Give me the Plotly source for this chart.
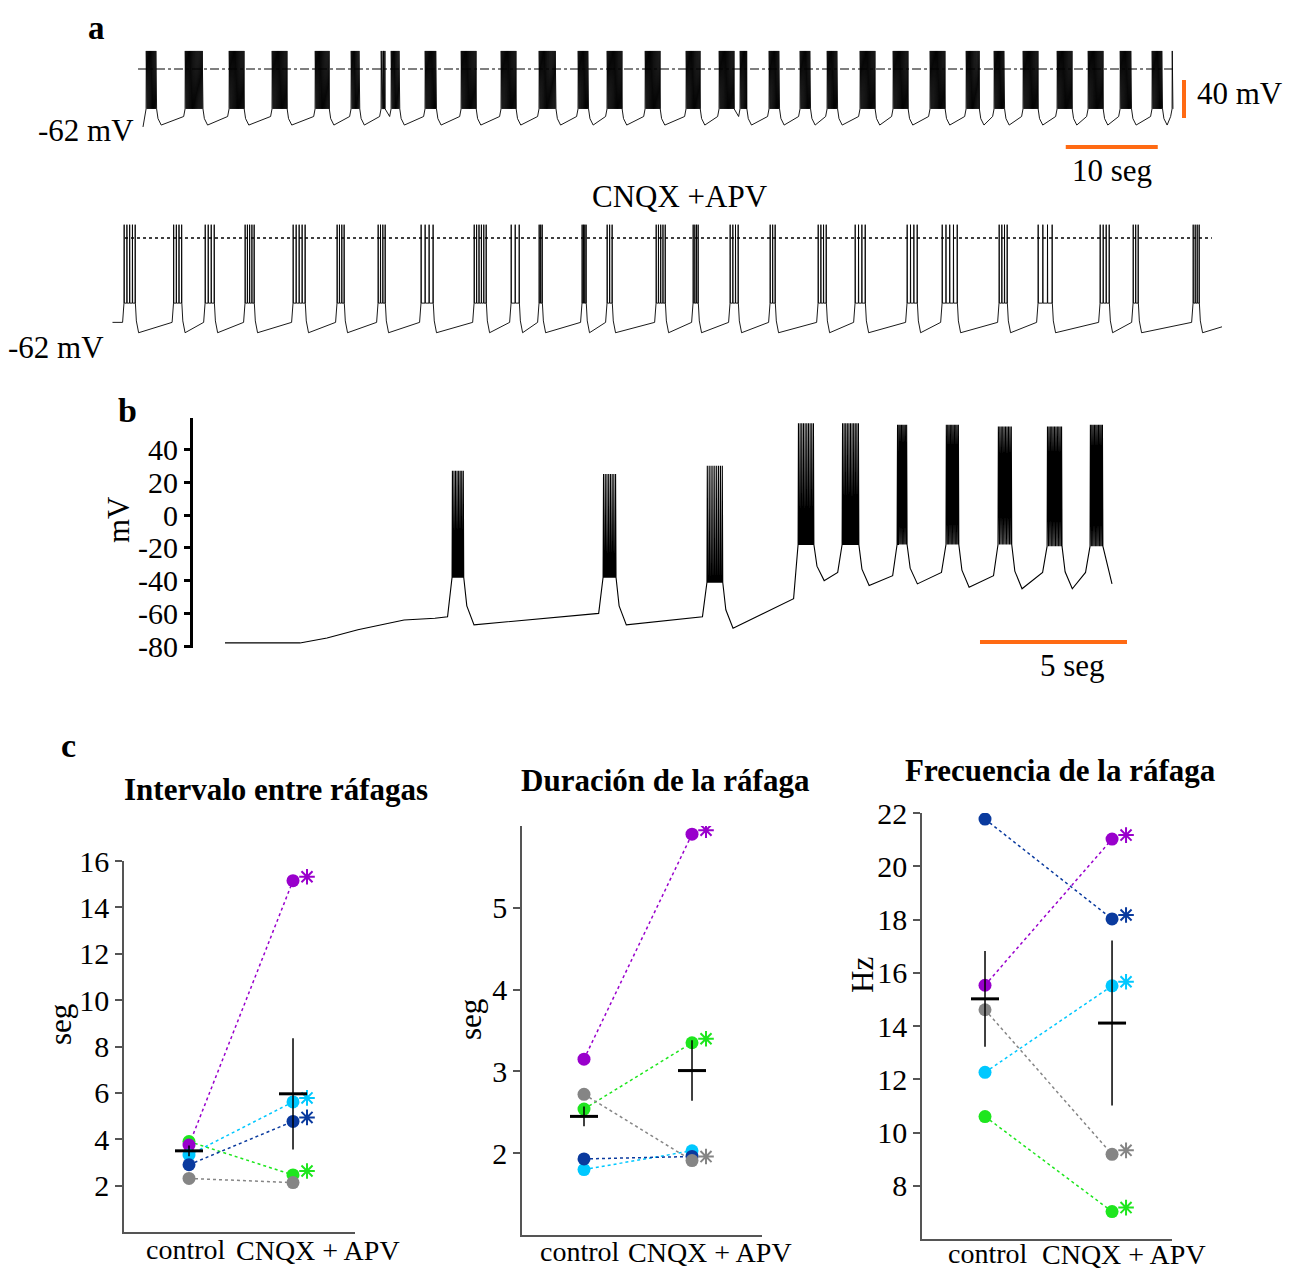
import plotly.graph_objects as go

W, H = 1293, 1275
FONT = "Liberation Serif"
ORANGE = "#FF6A13"
# the page body adds an 8 px margin; all pixel targets below are page pixels
PAGE_OFF = 8

# ---------------- DATA ----------------
# Panel a, control trace (time in s, voltage in mV)
a1_burst_onset = [0.33, 4.57, 9.35, 14.02, 18.70, 22.61, 25.87, 26.96, 30.65, 34.57,
                  38.91, 43.04, 47.28, 50.43, 54.57, 59.02, 62.61, 64.89, 68.04, 71.41,
                  74.35, 77.93, 81.52, 85.54, 89.46, 92.50, 95.65, 99.35, 102.72, 106.20,
                  109.67, 111.85]
a1_burst_dur = [1.1, 1.9, 1.6, 1.6, 1.5, 0.9, 0.4, 0.9, 1.2, 1.6,
                1.6, 1.8, 1.1, 1.6, 1.6, 1.5, 1.6, 0.7, 1.1, 1.1,
                1.1, 1.6, 1.6, 1.6, 1.4, 1.1, 1.6, 1.6, 1.6, 1.2,
                1.1, 0.0]
a1_spike_hz = 18
a1_levels = {"start": -61, "pre": -50, "plateau": -42, "peak": 19, "trough": -59, "end": -42}

# Panel a, CNQX + APV trace
a2_burst_onset = [0.65, 6.03, 9.46, 13.80, 19.02, 23.80, 28.26, 32.93, 38.70, 42.72,
                  45.76, 50.43, 53.15, 58.48, 62.50, 66.52, 70.87, 76.09, 80.11, 85.76,
                  89.57, 95.76, 100.00, 106.74, 110.33, 116.85]
a2_burst_dur = [1.20, 0.87, 0.98, 0.98, 1.30, 0.76, 0.76, 1.30, 1.30, 0.87,
                0.33, 0.43, 0.54, 0.98, 0.54, 0.87, 0.54, 0.87, 1.09, 1.09,
                1.63, 0.87, 1.52, 0.98, 0.54, 0.65]
a2_spike_n = [5, 4, 4, 5, 5, 4, 4, 4, 6, 3,
              3, 4, 3, 5, 4, 4, 3, 4, 4, 4,
              5, 4, 4, 4, 3, 4]
a2_levels = {"start": -57, "pre": -57, "plateau": -44, "peak": 9, "trough": -64, "end": -60}

# Panel b trace
b_lead_t = [0.0, 2.55, 3.47, 4.52, 6.09, 7.14]
b_lead_v = [-78, -78, -75, -70, -64, -63]
b_burst_onset = [7.72, 12.86, 16.39, 19.49, 20.99, 22.86, 24.52, 26.29, 27.96, 29.42]
b_burst_dur = [0.37, 0.41, 0.51, 0.51, 0.54, 0.31, 0.41, 0.44, 0.48, 0.41]
b_spike_n = [8, 8, 9, 10, 11, 8, 10, 10, 11, 10]
b_pre = [-62, -60, -62, -51, -35, -37, -35, -37, -35, -35]
b_plateau = [-38, -38, -41, -18, -18, -18, -18, -18, -19, -19]
b_peak = [27, 25, 30, 56, 56, 55, 55, 54, 54, 55]
b_trough = [-67, -67, -69, -40, -43, -42, -44, -45, -45, -44]
b_end = (30.17, -42)
b_ticks = [-80, -60, -40, -20, 0, 20, 40]

# Panel c
groups = ["control", "CNQX + APV"]
cell_names = ["green", "purple", "cyan", "navy", "grey"]
cell_colors = ["#1EE61E", "#9900CC", "#00C8FF", "#0A3A9E", "#858585"]

c1_control = [3.90, 3.75, 3.32, 2.90, 2.31]
c1_drug = [2.46, 15.15, 5.61, 4.77, 2.13]
c1_star = [True, True, True, True, False]
c1_mean = [3.50, 5.96]
c1_sem = [0.23, 2.40]

c2_control = [2.54, 3.15, 1.80, 1.93, 2.72]
c2_drug = [3.35, 5.90, 2.03, 1.96, 1.91]
c2_star = [True, True, False, False, True]
c2_mean = [2.45, 3.01]
c2_sem = [0.12, 0.37]

c3_control = [10.60, 15.53, 12.26, 21.77, 14.61]
c3_drug = [7.03, 21.02, 15.51, 18.02, 9.18]
c3_star = [True, True, True, True, True]
c3_mean = [15.02, 14.11]
c3_sem = [1.80, 3.10]

c_titles = ["Intervalo entre ráfagas", "Duración de la ráfaga", "Frecuencia de la ráfaga"]
c_ylabels = ["seg", "seg", "Hz"]
c1_ticks = [2, 4, 6, 8, 10, 12, 14, 16]
c2_ticks = [2, 3, 4, 5]
c3_ticks = [8, 10, 12, 14, 16, 18, 20, 22]


# ---------------- helpers ----------------
def px(x):
    return (x - PAGE_OFF) / W


def py(y):
    return 1 - (y - PAGE_OFF) / H


def dx(a, b):
    return [px(a), px(b)]


def dy(top, bottom):
    return [py(bottom), py(top)]


def full_range(x_at_t0, px_per_s):
    # time range of an axis spanning the whole figure width
    return [(PAGE_OFF - x_at_t0) / px_per_s, (W + PAGE_OFF - x_at_t0) / px_per_s]


def build_trace(lead_t, lead_v, onsets, durs, nspk, pre, plat, peak, trough,
                t_end, v_end, rise, fall, spw):
    def pick(p, i):
        return p[i] if isinstance(p, (list, tuple)) else p
    t = list(lead_t)
    v = list(lead_v)
    n = len(onsets)
    for i in range(n):
        on, d, k = onsets[i], durs[i], nspk[i]
        if t[-1] < on - rise:
            t.append(on - rise)
            v.append(pick(pre, i))
        pl, pk, tr = pick(plat, i), pick(peak, i), pick(trough, i)
        t.append(on)
        v.append(pl)
        for j in range(k):
            ts = on + (d * j / (k - 1) if k > 1 else 0.0)
            t += [ts + spw * 0.2, ts + spw, ts + 2 * spw]
            v += [pl, pk, pl]
        end = on + d + 2 * spw
        nxt = onsets[i + 1] if i + 1 < n else t_end
        if nxt - end > rise + fall:
            t += [end + 0.3 * fall, end + fall]
            v += [pl + 0.6 * (tr - pl), tr]
    t.append(t_end)
    v.append(v_end)
    return t, v


fig = go.Figure()

# ---------------- panel a ----------------
a1_n = [max(1, round(d * a1_spike_hz)) for d in a1_burst_dur]
a1_t, a1_v = build_trace([0.0], [a1_levels["start"]], a1_burst_onset, a1_burst_dur, a1_n,
                         a1_levels["pre"], a1_levels["plateau"], a1_levels["peak"],
                         a1_levels["trough"], 111.95, a1_levels["end"], 0.15, 0.5, 0.025)
fig.add_trace(go.Scatter(x=a1_t, y=a1_v, mode="lines", line=dict(color="black", width=0.9),
                         xaxis="x", yaxis="y", hoverinfo="skip"))
fig.add_trace(go.Scatter(x=[-0.54, 112.17], y=[0, 0], mode="lines",
                         line=dict(color="black", width=1.2, dash="dashdot"),
                         xaxis="x", yaxis="y"))
# scale bars (10 s, 40 mV)
fig.add_trace(go.Scatter(x=[100.3, 110.3], y=[-82.1, -82.1], mode="lines",
                         line=dict(color=ORANGE, width=4), xaxis="x", yaxis="y"))
fig.add_trace(go.Scatter(x=[113.15, 113.15], y=[-11.6, -51.6], mode="lines",
                         line=dict(color=ORANGE, width=4), xaxis="x", yaxis="y"))

a2_t, a2_v = build_trace([-0.6], [a2_levels["start"]], a2_burst_onset, a2_burst_dur, a2_spike_n,
                         a2_levels["pre"], a2_levels["plateau"], a2_levels["peak"],
                         a2_levels["trough"], 120.0, a2_levels["end"], 0.15, 0.35, 0.02)
fig.add_trace(go.Scatter(x=a2_t, y=a2_v, mode="lines", line=dict(color="black", width=0.9),
                         xaxis="x2", yaxis="y2", hoverinfo="skip"))
fig.add_trace(go.Scatter(x=[0.76, 118.9], y=[0, 0], mode="lines",
                         line=dict(color="black", width=1.5, dash="dot"),
                         xaxis="x2", yaxis="y2"))

# ---------------- panel b ----------------
b_t, b_v = build_trace(b_lead_t, b_lead_v, b_burst_onset, b_burst_dur, b_spike_n,
                       b_pre, b_plateau, b_peak, b_trough, b_end[0], b_end[1], 0.15, 0.35, 0.015)
fig.add_trace(go.Scatter(x=b_t, y=b_v, mode="lines", line=dict(color="black", width=1.1),
                         xaxis="x3", yaxis="y3", hoverinfo="skip"))
fig.add_trace(go.Scatter(x=[25.68, 30.68], y=[-77.4, -77.4], mode="lines",
                         line=dict(color=ORANGE, width=4), xaxis="x3", yaxis="y3"))

# ---------------- panel c ----------------
# pixel boxes (x0, x1, y_top, y_bottom) and data ranges of the three small plots
c_boxes = [((124, 355, 861, 1232), (-0.625, 1.596), (0, 16)),
           ((522, 762, 826, 1235), (-0.574, 1.648), (1, 6)),
           ((922, 1172, 813, 1239), (-0.496, 1.472), (6, 22))]
c_sets = [
    (c1_control, c1_drug, c1_star, c1_mean, c1_sem, "x4", "y4"),
    (c2_control, c2_drug, c2_star, c2_mean, c2_sem, "x5", "y5"),
    (c3_control, c3_drug, c3_star, c3_mean, c3_sem, "x6", "y6"),
]
STAR_DX_PX, STAR_DY_PX = 14, 4
annotations = []
for (box, xr, yr), (ctrl, drug, star, mean, sem, xa, ya) in zip(c_boxes, c_sets):
    ux = (box[1] - box[0]) / (xr[1] - xr[0])
    uy = (box[3] - box[2]) / (yr[1] - yr[0])
    for i in range(len(cell_names)):
        fig.add_trace(go.Scatter(x=[0, 1], y=[ctrl[i], drug[i]], mode="lines",
                                 line=dict(color=cell_colors[i], width=1.5, dash="dot"),
                                 xaxis=xa, yaxis=ya))
    for i in range(len(cell_names)):
        fig.add_trace(go.Scatter(x=[0, 1], y=[ctrl[i], drug[i]], mode="markers",
                                 marker=dict(color=cell_colors[i], size=13),
                                 xaxis=xa, yaxis=ya))
        if star[i]:
            fig.add_trace(go.Scatter(x=[1 + STAR_DX_PX / ux], y=[drug[i] + STAR_DY_PX / uy],
                                     mode="markers",
                                     marker=dict(symbol="asterisk-open", size=13,
                                                 color=cell_colors[i],
                                                 line=dict(color=cell_colors[i], width=2)),
                                     xaxis=xa, yaxis=ya))
    fig.add_trace(go.Scatter(x=[0, 1], y=mean, mode="markers",
                             marker=dict(symbol="line-ew", size=20, color="black",
                                         line=dict(color="black", width=3)),
                             error_y=dict(type="data", array=sem, thickness=1.5, width=0,
                                          color="black"),
                             xaxis=xa, yaxis=ya))


def text(t, x, y, size, bold=False, xanchor="center", angle=0, color="black",
         yanchor="middle"):
    annotations.append(dict(text=("<b>%s</b>" % t) if bold else t, x=px(x),
                            y=min(1.0, py(y)),
                            xref="paper", yref="paper", showarrow=False, xanchor=xanchor,
                            yanchor=yanchor, textangle=angle,
                            font=dict(family=FONT, size=size, color=color)))


text("a", 96, PAGE_OFF, 33, bold=True, yanchor="top")
text("b", 127, 410, 34, bold=True)
text("c", 68, 745, 34, bold=True)
text("-62 mV", 136, 131, 31, xanchor="right")
text("-62 mV", 106, 347, 31, xanchor="right")
text("40 mV", 1195, 94, 31, xanchor="left")
text("10 seg", 1112, 170, 31)
text("CNQX +APV", 680, 197, 31)
text("mV", 118, 520, 31, angle=-90)
text("5 seg", 1072, 665, 31)

title_pos = [(276, 790), (665, 780), (1060, 770)]
for (x, y), t in zip(title_pos, c_titles):
    text(t, x, y, 31, bold=True)
ylab_pos = [(60, 1025), (470, 1020), (862, 975)]
for (x, y), t in zip(ylab_pos, c_ylabels):
    text(t, x, y, 31, angle=-90)
cat_pos = [[(186, 1249), (318, 1250)], [(580, 1251), (710, 1252)], [(988, 1253), (1124, 1254)]]
for pair in cat_pos:
    for (x, y), g in zip(pair, groups):
        text(g, x, y, 28)


def hidden_x(domain, rng, anchor):
    return dict(domain=domain, range=rng, visible=False, fixedrange=True, anchor=anchor,
                automargin=False)


def c_x(box, rng, anchor):
    return dict(domain=dx(box[0], box[1]), range=rng, showline=True, linecolor="#555555",
                linewidth=1.5, showticklabels=False, ticks="", showgrid=False,
                zeroline=False, anchor=anchor, automargin=False)


def c_y(box, rng, anchor, ticks):
    return dict(domain=dy(box[2], box[3]), range=rng, showline=True, linecolor="#555555",
                linewidth=1.5, ticks="outside", ticklen=7, tickwidth=1.5,
                tickcolor="#555555", tickvals=ticks, ticktext=[str(v) for v in ticks],
                tickfont=dict(family=FONT, size=30, color="black"),
                showgrid=False, zeroline=False, anchor=anchor, automargin=False)


# panel b x axis: starts at the y-axis line (page x = 193), 29.4 px per second, t=0 at x=225
b_x0 = 193
fig.update_layout(
    width=W, height=H, margin=dict(l=0, r=0, t=0, b=0, pad=0, autoexpand=False),
    paper_bgcolor="white", plot_bgcolor="white", showlegend=False,
    xaxis=hidden_x([0, 1], full_range(143, 9.2), "y"),
    yaxis=dict(domain=dy(30, 160), range=[(69 - 160) / 0.95, (69 - 30) / 0.95],
               visible=False, fixedrange=True, anchor="x", automargin=False),
    xaxis2=hidden_x([0, 1], full_range(118, 9.2), "y2"),
    yaxis2=dict(domain=dy(200, 345), range=[(238 - 345) / 1.48, (238 - 200) / 1.48],
                visible=False, fixedrange=True, anchor="x2", automargin=False),
    xaxis3=hidden_x([px(b_x0), 1], [(b_x0 - 225) / 29.4, (W + PAGE_OFF - 225) / 29.4], "y3"),
    yaxis3=dict(domain=dy(418, 648), range=[(515 - 648) / 1.64, (515 - 418) / 1.64],
                showline=True, linecolor="black", linewidth=3, ticks="outside", ticklen=6,
                tickwidth=3, tickcolor="black", tickvals=b_ticks,
                ticktext=[str(v) for v in b_ticks],
                tickfont=dict(family=FONT, size=30, color="black"),
                showgrid=False, zeroline=False, anchor="x3", automargin=False),
    xaxis4=c_x(c_boxes[0][0], c_boxes[0][1], "y4"),
    yaxis4=c_y(c_boxes[0][0], c_boxes[0][2], "x4", c1_ticks),
    xaxis5=c_x(c_boxes[1][0], c_boxes[1][1], "y5"),
    yaxis5=c_y(c_boxes[1][0], c_boxes[1][2], "x5", c2_ticks),
    xaxis6=c_x(c_boxes[2][0], c_boxes[2][1], "y6"),
    yaxis6=c_y(c_boxes[2][0], c_boxes[2][2], "x6", c3_ticks),
    annotations=annotations,
)

fig.write_html("out.html")
